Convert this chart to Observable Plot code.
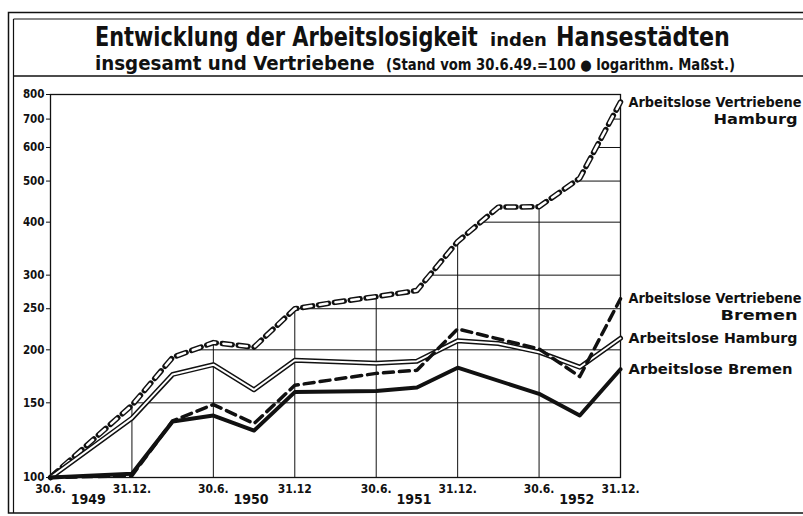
<!DOCTYPE html>
<html>
<head>
<meta charset="utf-8">
<script src="https://cdn.jsdelivr.net/npm/d3@7"></script>
<script src="https://cdn.jsdelivr.net/npm/@observablehq/plot@0.6"></script>
<style>
  body { margin: 0; background: #fff; }
  #wrap { position: relative; width: 803px; height: 516px; overflow: hidden; background: #fff;
          font-family: "DejaVu Sans Condensed", "DejaVu Sans", sans-serif; }
  #chart { position: absolute; left: 0; top: 80px; }
  #overlay { position: absolute; left: 0; top: 0; pointer-events: none; }
</style>
</head>
<body>
<div id="wrap">
  <div id="chart"></div>
  <svg id="overlay" width="803" height="516" xmlns="http://www.w3.org/2000/svg"
       font-family="DejaVu Sans Condensed, DejaVu Sans, sans-serif" fill="#111">
    <rect x="8.5" y="12.5" width="820" height="500.5" fill="none" stroke="#111" stroke-width="1.5"/>
    <line x1="13.5" y1="19" x2="13.5" y2="513" stroke="#111" stroke-width="1.2"/>
    <line x1="13.5" y1="19" x2="803" y2="19" stroke="#111" stroke-width="1.2"/>
    <line x1="13.5" y1="76" x2="803" y2="76" stroke="#111" stroke-width="1.5"/>
    <text class="fitx" data-x="95" data-y="46" data-w="383" font-size="26" font-weight="bold">Entwicklung der Arbeitslosigkeit</text>
    <text class="fitx" data-x="490" data-y="46" data-w="57" font-size="18" font-weight="bold">inden</text>
    <text class="fitx" data-x="556" data-y="46" data-w="174" font-size="26" font-weight="bold">Hansestädten</text>
    <text class="fitx" data-x="95" data-y="70" data-w="280" font-size="19" font-weight="bold">insgesamt und Vertriebene</text>
    <text class="fitx" data-x="386" data-y="70" data-w="349" font-size="15" font-weight="bold">(Stand vom 30.6.49.=100 ● logarithm. Maßst.)</text>
  </svg>
</div>
<script>
// ---- data ----
const quarterDates = ["30.6.49","30.9.49","31.12.49","31.3.50","30.6.50","30.9.50","31.12.50",
                      "31.3.51","30.6.51","30.9.51","31.12.51","31.3.52","30.6.52","30.9.52","31.12.52"];
const dateTickLabels = ["30.6.","31.12.","30.6.","31.12","30.6.","31.12.","30.6.","31.12."];
const yearLabels = ["1949","1950","1951","1952"];
const yTickValues = [100,150,200,250,300,400,500,600,700,800];

// index values (30.6.49 = 100), null where the drawn line has no vertex
const hhVertriebene = [100, null, 148, 192, 208, 203, 250, 259, 267, 276, 360, 434, 435, 508, 768];
const hhInsgesamt   = [100, null, 138, 175, 184.5, 161, 189, null, 186, 188, 210, 207, 197.5, 182, 213];
const hbVertriebene = [100, null, 101, 136, 148.6, 134, 165, null, 176, 179, 224, null, 201, 173, 264];
const hbInsgesamt   = [100, null, 102, 135.5, 140, 129, 159, null, 160, 163, 181.5, null, 157.5, 140, 180];

const labelLine1 = ["Arbeitslose Vertriebene","Arbeitslose Vertriebene","Arbeitslose Hamburg","Arbeitslose Bremen"];
const labelLine2 = ["Hamburg","Bremen","",""];

// ---- helpers ----
const rows = vals => vals.map((v, i) => ({i, v})).filter(d => d.v != null);
const lastIdx = quarterDates.length - 1;
const hhV = rows(hhVertriebene), hhI = rows(hhInsgesamt), hbV = rows(hbVertriebene), hbI = rows(hbInsgesamt);
const seriesEnds = [hhVertriebene, hbVertriebene, hhInsgesamt, hbInsgesamt].map(a => a[lastIdx]);
const endLabels = labelLine1.map((t, k) => ({t1: t, t2: labelLine2[k], v: seriesEnds[k]}));

// grid lines are drawn only beneath the top curve
const gridX = dateTickLabels.map((_, k) => 2 * k).filter(i => i > 0 && i < lastIdx);
const gridY = yTickValues.filter(v => v > 100 && v < 800);
function crossing(v) {
  for (let k = 0; k < hhV.length - 1; k++) {
    const a = hhV[k], b = hhV[k + 1];
    if (a.v <= v && v < b.v) return a.i + (Math.log(v) - Math.log(a.v)) / (Math.log(b.v) - Math.log(a.v)) * (b.i - a.i);
  }
  return lastIdx;
}

const ink = "#111";
const chart = Plot.plot({
  width: 803, height: 436,
  marginLeft: 50, marginRight: 183, marginTop: 14, marginBottom: 39,
  x: {type: "linear", domain: [0, lastIdx]},
  y: {type: "log", domain: [100, 800]},
  style: {fontFamily: "DejaVu Sans Condensed, DejaVu Sans, sans-serif", fontSize: "12px", background: "transparent", color: ink, overflow: "visible"},
  marks: [
    Plot.ruleX(gridX, {x: d => d, y1: 100, y2: d => hhVertriebene[d], stroke: ink, strokeWidth: 1}),
    Plot.ruleY(gridY, {y: d => d, x1: d => crossing(d), x2: lastIdx, stroke: ink, strokeWidth: 1}),
    Plot.frame({stroke: ink, strokeWidth: 1.3}),
    Plot.axisY({ticks: yTickValues, tickSize: 4, tickPadding: 2, tickFormat: d => String(d), anchor: "left",
                label: null, fontSize: 11.5, fontWeight: "bold"}),
    Plot.axisX({ticks: dateTickLabels.map((_, k) => 2 * k), tickSize: 0, tickPadding: 7,
                tickFormat: i => dateTickLabels[i / 2], anchor: "bottom", label: null, fontSize: 12, fontWeight: "bold"}),
    Plot.text(yearLabels.map((_, k) => 4 * k + 1), {x: d => d, y: 100, text: (d, k) => yearLabels[k],
                dy: 22, dx: -3, fontSize: 14, fontWeight: "bold"}),
    // Hamburg Vertriebene: hollow dashes
    Plot.line(hhV, {x: "i", y: "v", stroke: ink, strokeWidth: 5.5, strokeDasharray: "10,6"}),
    Plot.line(hhV, {x: "i", y: "v", stroke: "white", strokeWidth: 2.6, strokeDasharray: "7.6,8.4", strokeDashoffset: -1.2}),
    // Hamburg insgesamt: double line
    Plot.line(hhI, {x: "i", y: "v", stroke: ink, strokeWidth: 5}),
    Plot.line(hhI, {x: "i", y: "v", stroke: "white", strokeWidth: 2}),
    // Bremen Vertriebene: black dashes
    Plot.line(hbV, {x: "i", y: "v", stroke: ink, strokeWidth: 3.5, strokeDasharray: "10,6"}),
    // Bremen insgesamt: heavy solid
    Plot.line(hbI, {x: "i", y: "v", stroke: ink, strokeWidth: 4}),
    // end labels
    Plot.text(endLabels, {x: lastIdx, y: "v", text: "t1", dx: 8, textAnchor: "start", fontSize: 14, fontWeight: "bold"}),
    Plot.text(endLabels.filter(d => d.t2), {x: lastIdx, y: "v", text: "t2", dx: 177, dy: 17, textAnchor: "end", fontSize: 14, fontWeight: "bold"})
  ]
});

const fit = {"Arbeitslose Vertriebene": 173, "Arbeitslose Hamburg": 169, "Arbeitslose Bremen": 164, "Hamburg": 84, "Bremen": 77};
d3.select(chart).selectAll("text").each(function () {
  const t = this.textContent;
  if (fit[t]) { this.setAttribute("textLength", fit[t]); this.setAttribute("lengthAdjust", "spacingAndGlyphs"); }
});
document.getElementById("chart").appendChild(chart);

// horizontally compress title texts to their lettered widths
document.querySelectorAll("#overlay text.fitx").forEach(el => {
  const w = el.getComputedTextLength();
  const k = (+el.dataset.w) / w;
  el.setAttribute("transform", `translate(${el.dataset.x},${el.dataset.y}) scale(${k},1)`);
});
</script>
</body>
</html>
